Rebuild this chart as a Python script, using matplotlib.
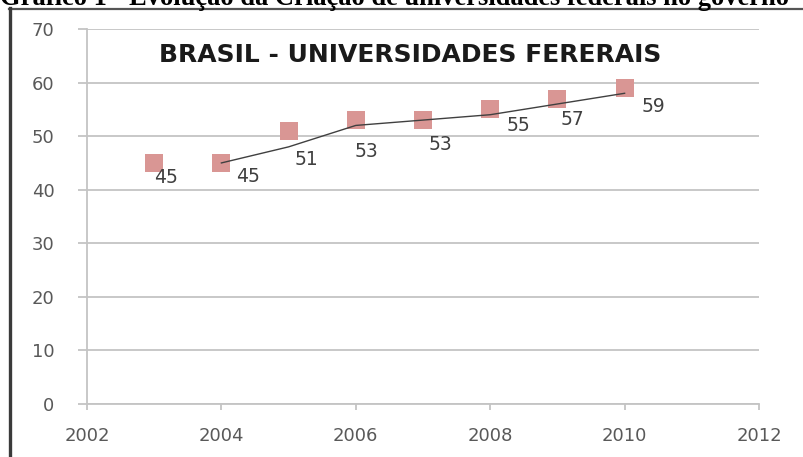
import matplotlib.pyplot as plt
from matplotlib.lines import Line2D

# dados do grafico
anos = [2003, 2004, 2005, 2006, 2007, 2008, 2009, 2010]
universidades = [45, 45, 51, 53, 53, 55, 57, 59]
# linha de tendencia (media movel de 2 periodos)
anos_tend = [2004, 2005, 2006, 2007, 2008, 2009, 2010]
tendencia = [45, 48, 52, 53, 54, 56, 58]

x_ticks = [2002, 2004, 2006, 2008, 2010, 2012]
y_ticks = [0, 10, 20, 30, 40, 50, 60, 70]

titulo_doc = "Gráfico 1 - Evolução da Criação de universidades federais no governo"
titulo = "BRASIL - UNIVERSIDADES FERERAIS"

# deslocamento dos rotulos (pixels), como no original
rot_offsets = [(12, 15), (27, 14), (18, 29), (11, 31), (17, 24), (28, 16), (15, 21), (29, 19)]

W, H = 804, 457
fig = plt.figure(figsize=(W / 100, H / 100), dpi=100)
ax = fig.add_axes([87 / W, (H - 404) / H, (759 - 87) / W, (404 - 29) / H])

grid_col = '#c4c4c4'
txt_col = '#595959'

ax.set_xlim(2002, 2012)
ax.set_ylim(0, 70)
ax.set_xticks(x_ticks)
ax.set_yticks(y_ticks)
for s in ['top', 'right']:
    ax.spines[s].set_visible(False)
for s in ['left', 'bottom']:
    ax.spines[s].set_color(grid_col)
    ax.spines[s].set_linewidth(1.3)
ax.yaxis.grid(True, color=grid_col, linewidth=1.3)
ax.set_axisbelow(True)
ax.tick_params(axis='y', length=6.5, width=1.3, color=grid_col, pad=17,
               labelsize=13, labelcolor=txt_col)
ax.tick_params(axis='x', length=4.3, width=1.3, color=grid_col, pad=12,
               labelsize=13, labelcolor=txt_col)

ax.plot(anos_tend, tendencia, color='#404040', linewidth=1, zorder=3)
ax.plot(anos, universidades, linestyle='none', marker='s', markersize=13,
        color='#d99694', markeredgewidth=0, zorder=2)

for a, v, (dx, dy) in zip(anos, universidades, rot_offsets):
    ax.annotate(str(v), (a, v), xytext=(dx, -dy), textcoords='offset pixels',
                ha='center', va='center', fontsize=13.5, color='#404040')

ax.text(0.481, 0.93, titulo, transform=ax.transAxes, ha='center', va='center',
        family='DejaVu Sans', weight='bold', fontsize=18, color='#1a1a1a')

# titulo do documento, cortado no topo
fig.text(0.0, 1 - 5 / H, titulo_doc, ha='left', va='baseline',
         family='Liberation Serif', weight='bold', fontsize=19.1, color='black')

# moldura
fig.add_artist(Line2D([9 / W, 1], [1 - 8.5 / H, 1 - 8.5 / H], color='#555555',
                      linewidth=1.6, transform=fig.transFigure))
fig.add_artist(Line2D([10 / W, 10 / W], [0, 1 - 8 / H], color='#3a3a3a',
                      linewidth=2.4, transform=fig.transFigure))

fig.savefig('out.png', dpi=100)
